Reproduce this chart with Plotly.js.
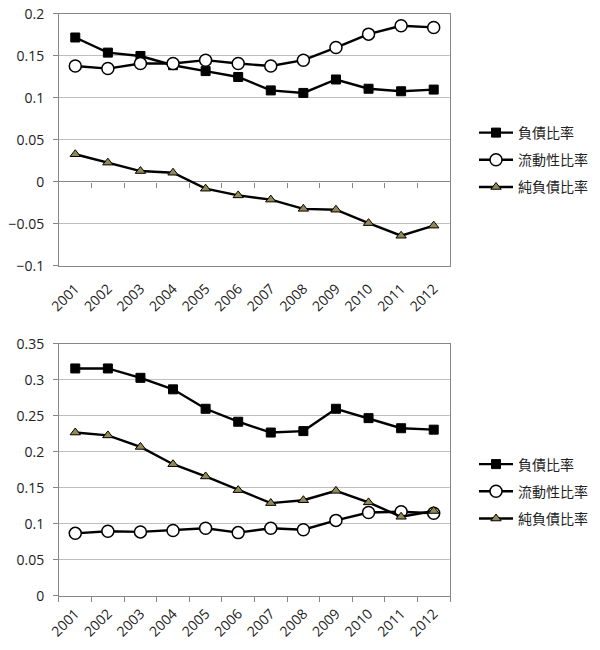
<!DOCTYPE html>
<html>
<head>
<meta charset="utf-8">
<script src="https://cdn.plot.ly/plotly-3.0.1.min.js"></script>
<style>
  body { margin: 0; background: #fff; }
  #chart { width: 600px; height: 650px; }
</style>
</head>
<body>
<div id="chart"></div>
<script>
const years = ["2001", "2002", "2003", "2004", "2005", "2006", "2007", "2008", "2009", "2010", "2011", "2012"];
const seriesNames = ["負債比率", "流動性比率", "純負債比率"];

// upper chart
const debtTop = [0.172, 0.154, 0.150, 0.139, 0.132, 0.125, 0.109, 0.106, 0.122, 0.111, 0.108, 0.110];
const liquidTop = [0.138, 0.135, 0.141, 0.141, 0.145, 0.141, 0.138, 0.145, 0.160, 0.176, 0.186, 0.184];
const netDebtTop = [0.033, 0.023, 0.013, 0.011, -0.008, -0.016, -0.021, -0.032, -0.033, -0.049, -0.064, -0.052];

// lower chart
const debtBottom = [0.316, 0.316, 0.303, 0.287, 0.260, 0.242, 0.227, 0.229, 0.260, 0.247, 0.233, 0.231];
const liquidBottom = [0.087, 0.090, 0.089, 0.091, 0.094, 0.088, 0.094, 0.092, 0.105, 0.116, 0.117, 0.115];
const netDebtBottom = [0.227, 0.223, 0.207, 0.183, 0.166, 0.147, 0.129, 0.133, 0.146, 0.130, 0.110, 0.118];

const tickFont = { family: "Open Sans, sans-serif", size: 14, color: "#222" };
const legendFont = { family: "Noto Sans CJK TC, sans-serif", size: 14, color: "#222" };
const lineStyle = { color: "#000", width: 2.4 };
const markerStyles = [
  { symbol: "square", size: 9, color: "#000", line: { color: "#000", width: 1 } },
  { symbol: "circle", size: 12, color: "#fff", line: { color: "#000", width: 1.5 } },
  { symbol: "triangle-up", size: 9, color: "#938953", line: { color: "#000", width: 1 } },
];

function makeTraces(values, xa, ya, legendId) {
  return values.map((v, i) => ({
    x: years,
    y: v,
    name: seriesNames[i],
    type: "scatter",
    mode: "lines+markers",
    line: lineStyle,
    marker: markerStyles[i],
    xaxis: xa,
    yaxis: ya,
    legend: legendId,
    legendgroup: legendId + i,
  }));
}

// the upper chart's categories sit on x (ticks on the zero line);
// x3 only carries the labels along the bottom edge
const data = [
  ...makeTraces([debtTop, liquidTop, netDebtTop], "x", "y", "legend"),
  ...makeTraces([debtBottom, liquidBottom, netDebtBottom], "x2", "y2", "legend2"),
  {
    x: years,
    y: years.map(() => null),
    type: "scatter",
    mode: "none",
    xaxis: "x3",
    yaxis: "y",
    showlegend: false,
    hoverinfo: "skip",
  },
];

const frame = {
  showline: true,
  linecolor: "#868686",
  linewidth: 1,
  mirror: true,
};

const layout = {
  width: 600,
  height: 650,
  margin: { l: 0, r: 0, t: 0, b: 0 },
  paper_bgcolor: "#fff",
  plot_bgcolor: "#fff",
  showlegend: true,
  xaxis: {
    domain: [0.0983, 0.75],
    anchor: "free",
    position: 0.72,
    type: "category",
    range: [-0.5, 11.5],
    ticks: "outside",
    tickson: "boundaries",
    ticklen: 5,
    tickcolor: "#868686",
    showticklabels: false,
    showgrid: false,
    zeroline: false,
    showline: false,
  },
  xaxis3: {
    ...frame,
    overlaying: "x",
    anchor: "y",
    type: "category",
    range: [-0.5, 11.5],
    ticks: "",
    tickangle: -45,
    ticklabelstandoff: 8,
    tickfont: tickFont,
    showgrid: false,
  },
  yaxis: {
    ...frame,
    domain: [0.5908, 0.9785],
    anchor: "x",
    range: [-0.1, 0.2],
    dtick: 0.05,
    ticks: "outside",
    ticklen: 5,
    tickcolor: "#868686",
    ticklabelstandoff: 6,
    tickfont: tickFont,
    gridcolor: "#bfbfbf",
    zeroline: true,
    zerolinecolor: "#868686",
    zerolinewidth: 1,
  },
  xaxis2: {
    ...frame,
    domain: [0.0983, 0.75],
    anchor: "y2",
    type: "category",
    range: [-0.5, 11.5],
    ticks: "outside",
    tickson: "boundaries",
    ticklen: 5,
    tickcolor: "#868686",
    tickangle: -45,
    ticklabelstandoff: 3,
    tickfont: tickFont,
    showgrid: false,
  },
  yaxis2: {
    ...frame,
    domain: [0.0831, 0.4708],
    anchor: "x2",
    range: [0, 0.35],
    dtick: 0.05,
    ticks: "outside",
    ticklen: 5,
    tickcolor: "#868686",
    ticklabelstandoff: 6,
    tickfont: tickFont,
    gridcolor: "#bfbfbf",
    zeroline: false,
  },
  legend: {
    x: 0.79,
    y: 0.82,
    xanchor: "left",
    yanchor: "top",
    font: legendFont,
    itemwidth: 34,
    tracegroupgap: 6,
    bgcolor: "rgba(0,0,0,0)",
  },
  legend2: {
    x: 0.79,
    y: 0.31,
    xanchor: "left",
    yanchor: "top",
    font: legendFont,
    itemwidth: 34,
    tracegroupgap: 6,
    bgcolor: "rgba(0,0,0,0)",
  },
};

Plotly.newPlot("chart", data, layout, { displayModeBar: false, staticPlot: true });
</script>
</body>
</html>
